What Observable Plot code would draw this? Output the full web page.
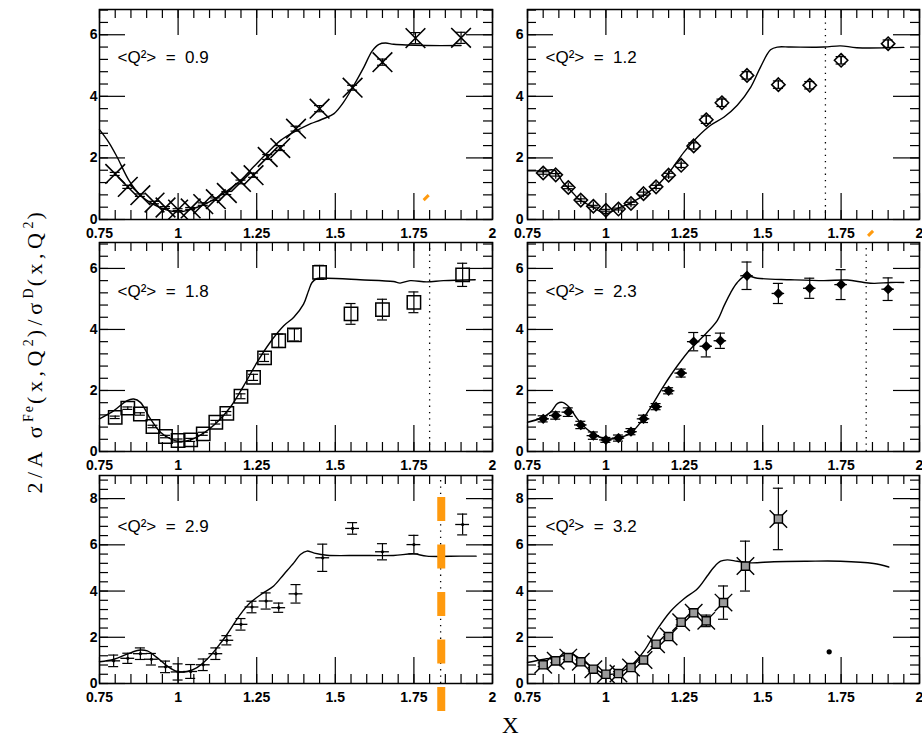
<!DOCTYPE html>
<html><head><meta charset="utf-8">
<script src="https://cdn.jsdelivr.net/npm/d3@7"></script>
<script src="https://cdn.jsdelivr.net/npm/@observablehq/plot@0.6"></script>
<style>
body{margin:0;background:#fff;}
#root{position:relative;width:922px;height:737px;overflow:hidden;background:#fff;}
.panel{position:absolute;}
.panel svg{overflow:visible;}
#ytitle{position:absolute;left:-168px;top:336px;width:400px;text-align:center;font-family:"Liberation Serif","DejaVu Serif",serif;font-size:22px;letter-spacing:4.5px;transform:rotate(-90deg);transform-origin:center center;white-space:nowrap;line-height:24px;}
#ytitle sup{font-size:14px;letter-spacing:2px;}
#xtitle{position:absolute;left:502px;top:713px;font-family:"Liberation Serif","DejaVu Serif",serif;font-size:23px;}
</style></head>
<body><div id="root">
<div id="ytitle">2/A σ<sup>Fe</sup>(x,Q<sup>2</sup>)/σ<sup>D</sup>(x,Q<sup>2</sup>)</div>
<div id="xtitle">X</div>
</div>
<script>
// ---- tick labels ----
const xMajor = [0.75, 1, 1.25, 1.5, 1.75, 2];
const xTickLabels = ["0.75", "1", "1.25", "1.5", "1.75", "2"];
const yMajorSmall = [0, 2, 4, 6];
const yMajorLarge = [0, 2, 4, 6, 8];
const panelLabels = ["<Q²>  =  0.9", "<Q²>  =  1.2", "<Q²>  =  1.8", "<Q²>  =  2.3", "<Q²>  =  2.9", "<Q²>  =  3.2"];

// ---- <Q2> = 0.9 ----
const q09X = [0.80,0.84,0.88,0.925,0.96,1.00,1.04,1.08,1.12,1.155,1.20,1.24,1.285,1.325,1.375,1.45,1.555,1.65,1.755,1.90];
const q09Y = [1.48,1.06,0.79,0.55,0.39,0.32,0.36,0.50,0.66,0.86,1.22,1.44,2.03,2.32,2.95,3.60,4.28,5.11,5.89,5.90];
const q09E = [0.05,0.05,0.04,0.04,0.03,0.03,0.03,0.04,0.04,0.05,0.06,0.07,0.08,0.08,0.08,0.10,0.08,0.10,0.18,0.18];
const q09CX = [0.75,0.78,0.806,0.843,0.88,0.92,0.96,1.0,1.03,1.07,1.11,1.156,1.2,1.24,1.283,1.326,1.368,1.41,1.464,1.496,1.527,1.559,1.591,1.617,1.639,1.66,1.686,1.79,1.90];
const q09CY = [2.92,2.5,2.03,1.28,0.79,0.50,0.32,0.24,0.30,0.43,0.63,0.93,1.28,1.71,2.16,2.57,2.84,3.06,3.28,3.44,3.82,4.36,4.95,5.47,5.69,5.73,5.69,5.65,5.65];

// ---- <Q2> = 1.2 ----
const q12X = [0.80,0.84,0.88,0.92,0.96,1.00,1.04,1.08,1.12,1.16,1.20,1.24,1.28,1.32,1.37,1.45,1.55,1.65,1.75,1.90];
const q12Y = [1.51,1.45,1.04,0.63,0.43,0.30,0.34,0.52,0.84,1.06,1.44,1.76,2.39,3.24,3.79,4.68,4.38,4.36,5.17,5.71];
const q12E = [0.04,0.04,0.04,0.04,0.03,0.03,0.03,0.04,0.05,0.05,0.06,0.07,0.1,0.12,0.12,0.12,0.12,0.12,0.12,0.12];
const q12CX = [0.75,0.80,0.835,0.862,0.89,0.915,0.952,1.0,1.037,1.079,1.122,1.164,1.207,1.249,1.292,1.334,1.377,1.419,1.462,1.493,1.525,1.547,1.589,1.695,1.748,1.80,1.95];
const q12CY = [1.58,1.58,1.6,1.22,0.92,0.65,0.44,0.19,0.36,0.54,0.79,1.11,1.6,2.19,2.68,3.06,3.33,3.71,4.30,4.95,5.51,5.6,5.6,5.6,5.64,5.58,5.59];

// ---- <Q2> = 1.8 ----
const q18X = [0.80,0.84,0.88,0.92,0.96,1.00,1.04,1.08,1.12,1.155,1.20,1.24,1.275,1.32,1.37,1.45,1.55,1.65,1.75,1.905];
const q18Y = [1.12,1.42,1.23,0.82,0.49,0.36,0.38,0.58,0.96,1.25,1.81,2.43,3.07,3.63,3.82,5.87,4.51,4.65,4.89,5.79];
const q18E = [0.04,0.04,0.04,0.04,0.04,0.05,0.05,0.05,0.06,0.06,0.08,0.1,0.12,0.22,0.2,0.23,0.34,0.34,0.34,0.38];
const q18CX = [0.75,0.796,0.838,0.859,0.88,0.912,0.944,0.976,1.002,1.039,1.081,1.124,1.166,1.209,1.251,1.293,1.336,1.368,1.399,1.415,1.426,1.442,1.473,1.579,1.685,1.706,1.738,1.791,1.844,1.945];
const q18CY = [1.07,1.34,1.67,1.72,1.61,1.07,0.63,0.41,0.33,0.38,0.60,0.96,1.45,2.16,2.92,3.58,4.12,4.40,4.83,5.27,5.54,5.67,5.68,5.63,5.57,5.52,5.6,5.56,5.6,5.63];

// ---- <Q2> = 2.3 ----
const q23X = [0.80,0.84,0.88,0.92,0.96,1.00,1.04,1.08,1.12,1.16,1.20,1.24,1.28,1.32,1.365,1.45,1.55,1.65,1.75,1.90];
const q23Y = [1.07,1.18,1.29,0.87,0.52,0.38,0.44,0.65,1.07,1.47,1.99,2.57,3.60,3.45,3.63,5.76,5.18,5.35,5.47,5.32];
const q23E = [0.1,0.12,0.14,0.12,0.12,0.08,0.1,0.1,0.12,0.1,0.1,0.13,0.3,0.35,0.25,0.45,0.33,0.33,0.49,0.37];
const q23CX = [0.75,0.792,0.824,0.846,0.862,0.883,0.909,0.941,0.973,1.005,1.042,1.079,1.111,1.143,1.185,1.228,1.27,1.313,1.355,1.377,1.398,1.419,1.446,1.483,1.589,1.695,1.77,1.823,1.855,1.908,1.95];
const q23CY = [0.96,1.09,1.29,1.58,1.61,1.45,1.07,0.72,0.50,0.41,0.45,0.60,0.96,1.45,2.16,2.81,3.36,3.80,4.29,4.78,5.21,5.54,5.76,5.68,5.63,5.60,5.62,5.54,5.51,5.54,5.54];

// ---- <Q2> = 2.9 ----
const q29X = [0.795,0.84,0.88,0.915,0.96,1.00,1.04,1.08,1.12,1.155,1.20,1.235,1.28,1.32,1.375,1.46,1.555,1.65,1.75,1.905];
const q29Y = [0.98,1.09,1.29,1.05,0.72,0.50,0.52,0.81,1.29,1.87,2.56,3.31,3.57,3.28,3.88,5.44,6.71,5.70,6.01,6.88];
const q29E = [0.25,0.22,0.25,0.25,0.25,0.35,0.3,0.25,0.25,0.2,0.25,0.25,0.35,0.2,0.4,0.59,0.25,0.35,0.4,0.45];
const q29CX = [0.75,0.796,0.838,0.875,0.902,0.933,0.965,0.997,1.029,1.06,1.092,1.124,1.156,1.198,1.23,1.272,1.304,1.336,1.368,1.389,1.41,1.431,1.473,1.579,1.685,1.749,1.791,1.897,1.948];
const q29CY = [0.94,1.05,1.27,1.44,1.41,1.12,0.76,0.52,0.52,0.69,1.05,1.55,2.13,2.99,3.5,3.93,4.22,4.72,5.22,5.58,5.73,5.65,5.55,5.54,5.54,5.61,5.51,5.51,5.51];

// ---- <Q2> = 3.2 ----
const q32X = [0.80,0.84,0.88,0.92,0.96,1.00,1.04,1.08,1.12,1.16,1.20,1.24,1.28,1.32,1.375,1.445,1.55];
const q32Y = [0.81,0.98,1.12,0.94,0.62,0.40,0.43,0.69,1.02,1.70,2.03,2.65,3.06,2.71,3.50,5.08,7.12];
const q32E = [0.08,0.08,0.08,0.08,0.08,0.08,0.08,0.08,0.1,0.1,0.1,0.12,0.15,0.25,0.72,1.08,1.33];
const q32CX = [0.75,0.803,0.846,0.888,0.92,0.962,1.0,1.037,1.079,1.122,1.164,1.207,1.249,1.292,1.323,1.345,1.366,1.387,1.419,1.462,1.536,1.641,1.748,1.854,1.902];
const q32CY = [0.91,1.05,1.12,1.29,1.05,0.65,0.40,0.45,0.76,1.41,2.35,3.14,3.67,4.10,4.65,5.04,5.29,5.35,5.29,5.22,5.27,5.29,5.29,5.19,5.04];

// dotted vertical lines (x positions)
const dottedX = [null, 1.70, 1.80, 1.83, 1.835, null];
// orange annotation marks
const orangeDashX = [1.837];
const orangeTick1 = [{x1:1.781, y1:0.63, x2:1.797, y2:0.79}];
const orangeTick2 = [{x1:1.836, y1:-0.53, x2:1.852, y2:-0.37}];
const blob = [{x:1.712, y:1.37}];

// ---- layout ----
const cols = [{left:55, ml:44, w:393, mr:12}, {left:487, ml:40, w:392, mr:3}];
const rows = [{top:0, mt:9, h:210, mb:22, ymax:6.82, yMaj:yMajorSmall},
              {top:233, mt:9, h:209, mb:22, ymax:6.85, yMaj:yMajorSmall},
              {top:466, mt:9, h:208, mb:42, ymax:9, yMaj:yMajorLarge}];
const xMinor = d3.range(0.75, 2.0001, 0.05);

function makePanel(col, row, label, px, py, pe, cx, cy, markerMarks, opts = {}) {
  const C = cols[col], R = rows[row];
  const ymax = R.ymax;
  const kx = C.w / 1.25, ky = R.h / ymax;
  const pts = px.map((x, i) => ({x, y: py[i], e: pe[i]}));
  const curve = cx.map((x, i) => ({x, y: cy[i]}));
  const yMin = d3.range(0, ymax, 0.4);
  const maj = 26, mn = 9, cap = 5 / kx;
  const sw = 1.2;
  const marks = [
    Plot.ruleX(xMinor, {x: d => d, y1: 0, y2: mn / ky, strokeWidth: sw}),
    Plot.ruleX(xMinor, {x: d => d, y1: ymax - mn / ky, y2: ymax, strokeWidth: sw}),
    Plot.ruleX(xMajor, {x: d => d, y1: 0, y2: maj / ky, strokeWidth: sw}),
    Plot.ruleX(xMajor, {x: d => d, y1: ymax - maj / ky, y2: ymax, strokeWidth: sw}),
    Plot.ruleY(yMin, {y: d => d, x1: 0.75, x2: 0.75 + mn / kx, strokeWidth: sw}),
    Plot.ruleY(yMin, {y: d => d, x1: 2 - mn / kx, x2: 2, strokeWidth: sw}),
    Plot.ruleY(R.yMaj, {y: d => d, x1: 0.75, x2: 0.75 + maj / kx, strokeWidth: sw}),
    Plot.ruleY(R.yMaj, {y: d => d, x1: 2 - maj / kx, x2: 2, strokeWidth: sw}),
    Plot.frame({stroke: "black", strokeWidth: 1.5}),
    Plot.text(xMajor, {x: d => d, frameAnchor: "bottom", lineAnchor: "middle", dy: 14, text: (d, i) => xTickLabels[i], fontSize: 14, fontWeight: "bold"}),
    Plot.text(R.yMaj, {y: d => d, frameAnchor: "left", lineAnchor: "middle", textAnchor: "end", dx: col === 0 ? -2 : -4, text: d => String(d), fontSize: 14, fontWeight: "bold"}),
    Plot.text([label], {frameAnchor: "top-left", lineAnchor: "middle", dx: 18, dy: row === 2 ? 51 : (row === 1 ? 49 : 48), textAnchor: "start", text: d => d.replace(/ /g, "\u00A0"), fontSize: 17, fontWeight: "normal"}),
  ];
  if (dottedX[row * 2 + col] != null) {
    marks.push(Plot.ruleX([dottedX[row * 2 + col]], {x: d => d, y1: 0, y2: ymax, strokeDasharray: "1.3,5", strokeWidth: 1.3}));
  }
  marks.push(Plot.line(curve, {x: "x", y: "y", curve: "catmull-rom", strokeWidth: 1.4}));
  marks.push(
    Plot.ruleX(pts, {x: "x", y1: d => d.y - d.e, y2: d => d.y + d.e, strokeWidth: 1.2}),
    Plot.ruleY(pts, {y: d => d.y + d.e, x1: d => d.x - cap, x2: d => d.x + cap, strokeWidth: 1.2}),
    Plot.ruleY(pts, {y: d => d.y - d.e, x1: d => d.x - cap, x2: d => d.x + cap, strokeWidth: 1.2})
  );
  if (opts.hbar) marks.push(Plot.ruleY(pts, {y: "y", x1: d => d.x - opts.hbar, x2: d => d.x + opts.hbar, strokeWidth: 1.3}));
  marks.push(...markerMarks(pts));
  if (opts.extra) marks.push(...opts.extra);
  const plot = Plot.plot({
    width: C.ml + C.w + C.mr, height: R.mt + R.h + R.mb,
    marginLeft: C.ml, marginRight: C.mr, marginTop: R.mt, marginBottom: R.mb,
    x: {domain: [0.75, 2], axis: null},
    y: {domain: [0, ymax], axis: null},
    style: {background: "none", overflow: "visible", fontFamily: "'Liberation Sans', Arial, Helvetica, sans-serif", color: "black"},
    marks
  });
  // widen tracking of the bold tick labels to match the scanned typeface
  d3.select(plot).selectAll("text").filter(function() { return this.getAttribute("font-weight") === "bold"; }).style("letter-spacing", "0.8px");
  const div = document.createElement("div");
  div.className = "panel";
  div.style.left = C.left + "px";
  div.style.top = R.top + "px";
  div.style.width = (C.ml + C.w + C.mr) + "px";
  div.appendChild(plot);
  document.getElementById("root").appendChild(div);
}

const orange = "#ff9a0e";

makePanel(0, 0, panelLabels[0], q09X, q09Y, q09E, q09CX, q09CY,
  pts => [Plot.dot(pts, {x: "x", y: "y", symbol: "times", r: 9, stroke: "black", strokeWidth: 1.6})],
  {extra: [Plot.link(orangeTick1, {x1: "x1", y1: "y1", x2: "x2", y2: "y2", stroke: orange, strokeWidth: 3})]});

makePanel(1, 0, panelLabels[1], q12X, q12Y, q12E, q12CX, q12CY,
  pts => [Plot.dot(pts, {x: "x", y: "y", symbol: "diamond2", r: 6, stroke: "black", strokeWidth: 1.6, fill: "white", fillOpacity: 0}),
          Plot.ruleX(pts, {x: "x", y1: d => d.y - 0.14, y2: d => d.y + 0.14, strokeWidth: 1.2})],
  {extra: [Plot.link(orangeTick2, {x1: "x1", y1: "y1", x2: "x2", y2: "y2", stroke: orange, strokeWidth: 3})]});

makePanel(0, 1, panelLabels[2], q18X, q18Y, q18E, q18CX, q18CY,
  pts => [Plot.dot(pts, {x: "x", y: "y", symbol: "square2", r: 8.5, stroke: "black", strokeWidth: 1.5, fill: "none"})]);

makePanel(1, 1, panelLabels[3], q23X, q23Y, q23E, q23CX, q23CY,
  pts => [Plot.dot(pts, {x: "x", y: "y", symbol: "diamond2", r: 3.4, stroke: "black", strokeWidth: 2, fill: "black"})],
  {hbar: 0.02});

makePanel(0, 2, panelLabels[4], q29X, q29Y, q29E, q29CX, q29CY,
  pts => [Plot.dot(pts, {x: "x", y: "y", r: 1.6, fill: "black"})],
  {hbar: 0.022, extra: [Plot.ruleX(orangeDashX, {x: d => d, y1: -1.21, y2: 8.05, stroke: orange, strokeWidth: 8, strokeDasharray: "24,23.5"})]});

makePanel(1, 2, panelLabels[5], q32X, q32Y, q32E, q32CX, q32CY,
  pts => [Plot.dot(pts, {x: "x", y: "y", symbol: "times", r: 8, stroke: "black", strokeWidth: 1.4}),
          Plot.dot(pts, {x: "x", y: "y", symbol: "square2", r: 5.2, stroke: "black", strokeWidth: 1.4, fill: "#9a9a9a"})],
  {extra: [Plot.dot(blob, {x: "x", y: "y", r: 2.6, fill: "black"})]});
</script>
</body></html>
